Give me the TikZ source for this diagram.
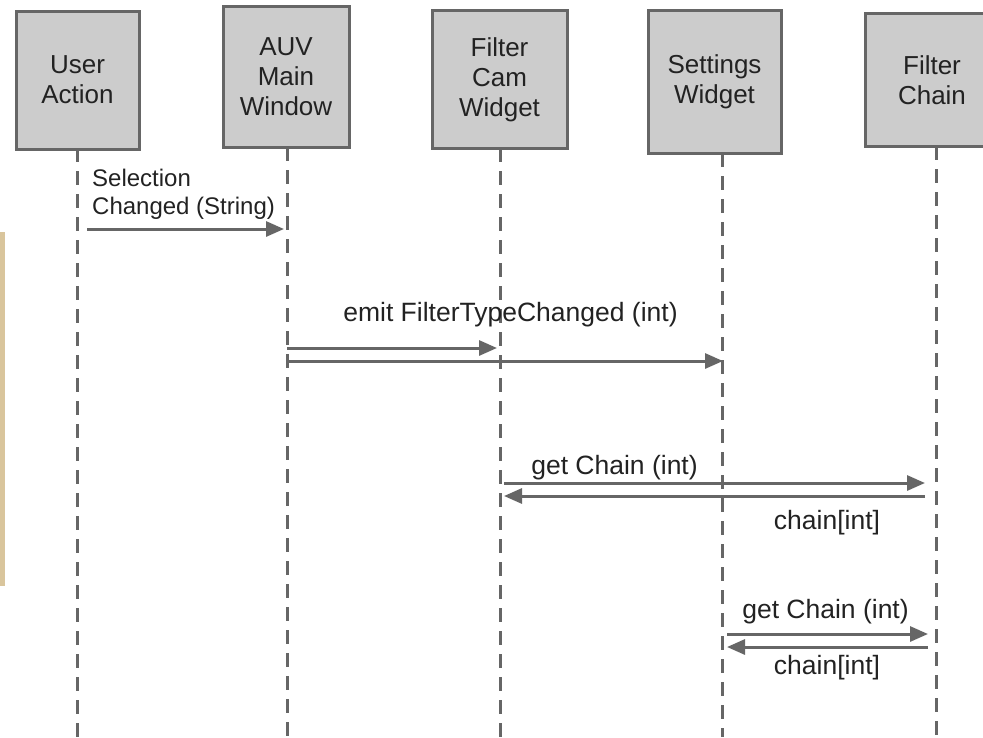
\documentclass[tikz,border=0pt]{standalone}
\usepackage{fontspec}
\setmainfont{Liberation Sans}
\usetikzlibrary{arrows.meta}
\definecolor{boxfill}{HTML}{CCCCCC}
\definecolor{boxline}{HTML}{666666}
\definecolor{msgline}{HTML}{666666}
\definecolor{inktext}{HTML}{222222}
\definecolor{tanbar}{HTML}{D9C59C}
\tikzset{
  actor/.style={draw=boxline, fill=boxfill, line width=3pt, inner sep=0pt,
    align=center, text=inktext, font=\fontsize{26}{30}\selectfont},
  lifeline/.style={draw=msgline, line width=3pt, dash pattern=on 14pt off 9pt},
  msg/.style={draw=msgline, line width=3pt, -{Triangle[length=18pt,width=15pt]}},
  msglabel/.style={text=inktext, inner sep=0pt, font=\fontsize{26.5}{28}\selectfont}
}
\begin{document}
\begin{tikzpicture}[x=1pt,y=-1pt]
\useasboundingbox (0,0) rectangle (983,737);
\clip (0,0) rectangle (983,737);

% thin tan strip at the left edge
\fill[tanbar] (0,232) rectangle (5,586);

% lifelines
\coordinate (ua-top) at (77,148);   \coordinate (ua-bot) at (77,737);
\coordinate (mw-top) at (287,147);  \coordinate (mw-bot) at (287,737);
\coordinate (fc-top) at (500,148);  \coordinate (fc-bot) at (500,737);
\coordinate (sw-top) at (722,153);  \coordinate (sw-bot) at (722,737);
\coordinate (ch-top) at (936,146);  \coordinate (ch-bot) at (936,737);
\foreach \l in {ua,mw,fc,sw,ch}
  \draw[lifeline] (\l-top) -- (\l-bot);

% actor boxes
\node[actor, minimum width=123pt, minimum height=138pt] (ua) at (77.5,80) {User\\Action};
\node[actor, minimum width=126pt, minimum height=141pt] (mw) at (286,77) {AUV\\Main\\Window};
\node[actor, minimum width=135pt, minimum height=138pt] (fc) at (499.5,79.5) {Filter\\Cam\\Widget};
\node[actor, minimum width=133pt, minimum height=143pt] (sw) at (714.5,82) {Settings\\Widget};
\node[actor, minimum width=134pt, minimum height=133pt] (ch) at (932,80) {Filter\\Chain};

% message end points on the lifelines
\coordinate (m1a) at (87,229);  \coordinate (m1b) at (284,229);
\coordinate (m2a) at (287,348); \coordinate (m2b) at (497,348);
\coordinate (m3a) at (287,361); \coordinate (m3b) at (723,361);
\coordinate (m4a) at (504,483); \coordinate (m4b) at (925,483);
\coordinate (m5a) at (925,496); \coordinate (m5b) at (504,496);
\coordinate (m6a) at (727,634); \coordinate (m6b) at (928,634);
\coordinate (m7a) at (928,647); \coordinate (m7b) at (727,647);

% messages
\draw[msg] (m1a) -- (m1b);
\draw[msg] (m2a) -- (m2b);
\draw[msg] (m3a) -- (m3b);
\draw[msg] (m4a) -- (m4b);
\draw[msg] (m5a) -- (m5b);
\draw[msg] (m6a) -- (m6b);
\draw[msg] (m7a) -- (m7b);

% message labels
\node[msglabel, align=left, anchor=west, font=\fontsize{24}{28}\selectfont] (l1) at (92,194) {Selection\\Changed (String)};
\node[msglabel] (l2) at (510.5,315) {emit FilterTypeChanged (int)};
\node[msglabel] (l3) at (614.5,468) {get Chain (int)};
\node[msglabel] (l4) at (827,523) {chain[int]};
\node[msglabel] (l5) at (825.5,612) {get Chain (int)};
\node[msglabel] (l6) at (827,668) {chain[int]};
\end{tikzpicture}
\end{document}
